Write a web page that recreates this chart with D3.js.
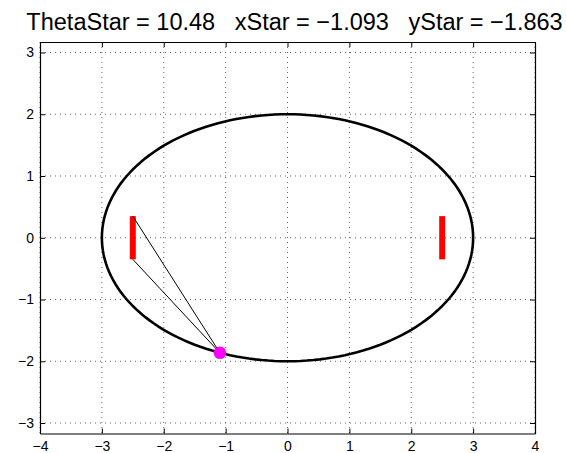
<!DOCTYPE html>
<html><head><meta charset="utf-8">
<script src="https://cdn.jsdelivr.net/npm/d3@7"></script>
<style>body{margin:0;background:#fff}svg{display:block}</style>
</head><body>
<svg id="c" width="566" height="453"></svg>
<script>
const title = "ThetaStar = 10.48   xStar = \u22121.093   yStar = \u22121.863";
const xTicks = [-4,-3,-2,-1,0,1,2,3,4];
const yTicks = [-3,-2,-1,0,1,2,3];
const ellipseA = 3, ellipseB = 2;
const bars = [ {x:-2.5, y0:-0.35, y1:0.35}, {x:2.5, y0:-0.35, y1:0.35} ];
const star = {x:-1.093, y:-1.863};

const svg = d3.select("#c");
const L=40, R=535, T=42, B=433.5;
const x = d3.scaleLinear().domain([-4,4]).range([L,R]);
const y = d3.scaleLinear().domain([-3.17,3.17]).range([B,T]);
const font = "'Liberation Sans', Arial, Helvetica, sans-serif";
const fmt = d => d<0 ? "\u2212"+Math.abs(d) : ""+d;

// grid
const g = svg.append("g");
g.selectAll(".gx").data(xTicks).join("line")
  .attr("x1",d=>x(d)).attr("x2",d=>x(d)).attr("y1",T).attr("y2",B)
  .attr("stroke","#666").attr("stroke-width",1).attr("stroke-dasharray","1,4");
g.selectAll(".gy").data(yTicks).join("line")
  .attr("y1",d=>y(d)).attr("y2",d=>y(d)).attr("x1",L).attr("x2",R)
  .attr("stroke","#666").attr("stroke-width",1).attr("stroke-dasharray","1,4");

// axes
const tickLen = 5;
const xb = svg.append("g").attr("transform",`translate(0,${B})`)
  .call(d3.axisBottom(x).tickValues(xTicks).tickFormat(fmt).tickSizeInner(-tickLen).tickSizeOuter(0).tickPadding(8));
const xt = svg.append("g").attr("transform",`translate(0,${T})`)
  .call(d3.axisTop(x).tickValues(xTicks).tickFormat("").tickSizeInner(-tickLen).tickSizeOuter(0));
const yl = svg.append("g").attr("transform",`translate(${L},0)`)
  .call(d3.axisLeft(y).tickValues(yTicks).tickFormat(fmt).tickSizeInner(-tickLen).tickSizeOuter(0).tickPadding(6));
const yr = svg.append("g").attr("transform",`translate(${R},0)`)
  .call(d3.axisRight(y).tickValues(yTicks).tickFormat("").tickSizeInner(-tickLen).tickSizeOuter(0));
[xb,xt,yl,yr].forEach(a=>{
  a.selectAll("path").attr("stroke","#000").attr("stroke-width",1.2);
  a.selectAll("line").attr("stroke","#000");
  a.selectAll("text").attr("fill","#000").style("font-family",font).style("font-size","14px");
});

// ellipse
const pts = d3.range(0,361,2).map(t=>[ellipseA*Math.cos(t*Math.PI/180), ellipseB*Math.sin(t*Math.PI/180)]);
svg.append("path").datum(pts)
  .attr("d", d3.line().x(d=>x(d[0])).y(d=>y(d[1])).curve(d3.curveLinearClosed))
  .attr("fill","none").attr("stroke","#000").attr("stroke-width",2.6);

// bars
svg.selectAll(".bar").data(bars).join("line")
  .attr("x1",d=>x(d.x)).attr("x2",d=>x(d.x)).attr("y1",d=>y(d.y0)).attr("y2",d=>y(d.y1))
  .attr("stroke","#ff0000").attr("stroke-width",6);

// lines from star to left bar ends
svg.selectAll(".ray").data([bars[0].y1, bars[0].y0]).join("line")
  .attr("x1",x(star.x)).attr("y1",y(star.y)).attr("x2",x(bars[0].x)).attr("y2",d=>y(d))
  .attr("stroke","#000").attr("stroke-width",1);

svg.append("circle").attr("cx",x(star.x)).attr("cy",y(star.y)).attr("r",6.3).attr("fill","#ff00ff");

svg.append("text").attr("x",294.5).attr("y",30).attr("text-anchor","middle")
  .style("white-space","pre").attr("xml:space","preserve")
  .style("font-family",font).style("font-size","23.5px").text(title);
</script>
</body></html>
